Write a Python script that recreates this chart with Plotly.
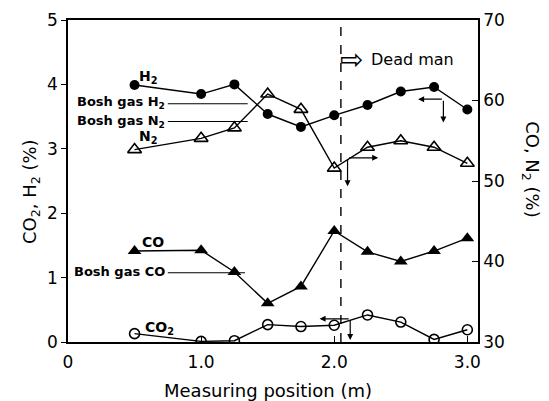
import plotly.graph_objects as go

# measuring positions (m)
position = [0.5, 1.0, 1.25, 1.5, 1.75, 2.0, 2.25, 2.5, 2.75, 3.0]

# left axis series (%)
h2 = [3.99, 3.85, 4.00, 3.54, 3.34, 3.52, 3.68, 3.89, 3.96, 3.61]
co2 = [0.13, 0.01, 0.02, 0.27, 0.24, 0.26, 0.42, 0.31, 0.04, 0.19]

# right axis series (%)
n2 = [53.9, 55.3, 56.6, 60.8, 58.9, 51.6, 54.2, 55.0, 54.2, 52.2]
co = [41.3, 41.4, 38.7, 34.8, 36.9, 43.8, 41.2, 40.0, 41.3, 42.9]

# bosh gas reference levels
bosh_x = [0.75, 1.35]
bosh_h2 = 3.70
bosh_n2 = 57.4
bosh_co = 38.6

dead_man_x = 2.05

x_ticks = [0, 1, 2, 3]
x_ticktext = ["0", "1.0", "2.0", "3.0"]

FONT = "DejaVu Sans"
line = dict(color="black", width=1.4)

fig = go.Figure()

fig.add_trace(go.Scatter(x=position, y=h2, mode="lines+markers", line=line,
                         marker=dict(symbol="circle", size=10, color="black")))
fig.add_trace(go.Scatter(x=position, y=co2, mode="lines+markers", line=line,
                         marker=dict(symbol="circle-open", size=10, color="black",
                                     line=dict(width=1.6))))
fig.add_trace(go.Scatter(x=position, y=n2, yaxis="y2", mode="lines+markers", line=line,
                         marker=dict(symbol="triangle-up-open", size=12, color="black",
                                     line=dict(width=1.6))))
fig.add_trace(go.Scatter(x=position, y=co, yaxis="y2", mode="lines+markers", line=line,
                         marker=dict(symbol="triangle-up", size=12, color="black")))

# bosh gas lines
fig.add_trace(go.Scatter(x=bosh_x, y=[bosh_h2] * 2, mode="lines",
                         line=dict(color="black", width=1.1)))
fig.add_trace(go.Scatter(x=bosh_x, y=[bosh_n2] * 2, yaxis="y2", mode="lines",
                         line=dict(color="black", width=1.1)))
fig.add_trace(go.Scatter(x=[0.75, 1.33], y=[bosh_co] * 2, yaxis="y2", mode="lines",
                         line=dict(color="black", width=1.1)))

fig.add_shape(type="line", x0=dead_man_x, x1=dead_man_x, y0=0, y1=1, yref="paper",
              line=dict(color="black", width=1.4, dash="dash"))

notes = [
    (0.52, 4.12, "<b>H<sub>2</sub></b>", "left", 14),
    (0.52, 3.18, "<b>N<sub>2</sub></b>", "left", 14),
    (0.54, 1.55, "<b>CO</b>", "left", 14),
    (0.56, 0.22, "<b>CO<sub>2</sub></b>", "left", 14),
    (0.745, 3.72, "<b>Bosh gas H<sub>2</sub></b>", "right", 13),
    (0.745, 3.43, "<b>Bosh gas N<sub>2</sub></b>", "right", 13),
    (0.745, 1.09, "<b>Bosh gas CO</b>", "right", 13),
]
for x, y, t, anchor, size in notes:
    fig.add_annotation(x=x, y=y, text=t, showarrow=False, xanchor=anchor,
                       yanchor="middle", font=dict(family=FONT, size=size, color="black"))

fig.add_annotation(x=dead_man_x - 0.02, y=4.38, text="⇨", showarrow=False, xanchor="left",
                   yanchor="middle", font=dict(family=FONT, size=28, color="black"))
fig.add_annotation(x=2.26, y=4.38, text="Dead man", showarrow=False, xanchor="left",
                   yanchor="middle", font=dict(family=FONT, size=16, color="black"))

# axis indicator arrows (tail -> head)
arrows = [
    (2.82, 3.77, 2.63, 3.77), (2.82, 3.77, 2.82, 3.41),
    (2.10, 2.86, 2.33, 2.86), (2.10, 2.86, 2.10, 2.42),
    (2.12, 0.36, 1.89, 0.36), (2.12, 0.36, 2.12, 0.03),
]
for ax, ay, hx, hy in arrows:
    fig.add_annotation(x=hx, y=hy, ax=ax, ay=ay, axref="x", ayref="y", text="",
                       showarrow=True, arrowhead=2, arrowsize=1, arrowwidth=1.2,
                       arrowcolor="black")

# axis titles
title_font = dict(family=FONT, size=18, color="black")
fig.add_annotation(x=-0.09, y=0.466, xref="paper", yref="paper",
                   text="CO<sub>2</sub>, H<sub>2</sub> (%)", textangle=-90, showarrow=False,
                   xanchor="center", yanchor="middle", font=title_font)
fig.add_annotation(x=1.129, y=0.534, xref="paper", yref="paper", text="CO, N<sub>2</sub> (%)",
                   textangle=90, showarrow=False, xanchor="center", yanchor="middle",
                   font=title_font)
fig.add_annotation(x=0.488, y=-0.152, xref="paper", yref="paper", text="Measuring position (m)",
                   showarrow=False, xanchor="center", yanchor="middle", font=title_font)

tick_font = dict(family=FONT, size=17, color="black")
# page body has an 8px margin, so the plot box is set 8px up/left
fig.update_layout(
    width=549, height=401,
    margin=dict(l=60, r=79, t=12, b=67),
    paper_bgcolor="white", plot_bgcolor="white",
    showlegend=False,
    xaxis=dict(range=[0, 3.08], tickvals=x_ticks, ticktext=x_ticktext, ticks="inside",
               ticklen=6, tickcolor="black", showline=True, linecolor="black", linewidth=1.5,
               mirror=True, showgrid=False, zeroline=False, tickfont=tick_font,
               ticklabelstandoff=4, automargin=False),
    yaxis=dict(range=[0, 5], dtick=1, ticks="outside", ticklen=5, tickcolor="black",
               showline=True, linecolor="black", linewidth=1.5, showgrid=False,
               zeroline=False, tickfont=tick_font, automargin=False),
    yaxis2=dict(range=[30, 70], dtick=10, overlaying="y", side="right", ticks="inside",
                ticklen=6, tickcolor="black", showline=True, linecolor="black", linewidth=1.5,
                showgrid=False, zeroline=False, tickfont=tick_font, automargin=False),
)

fig.write_html("out.html")
